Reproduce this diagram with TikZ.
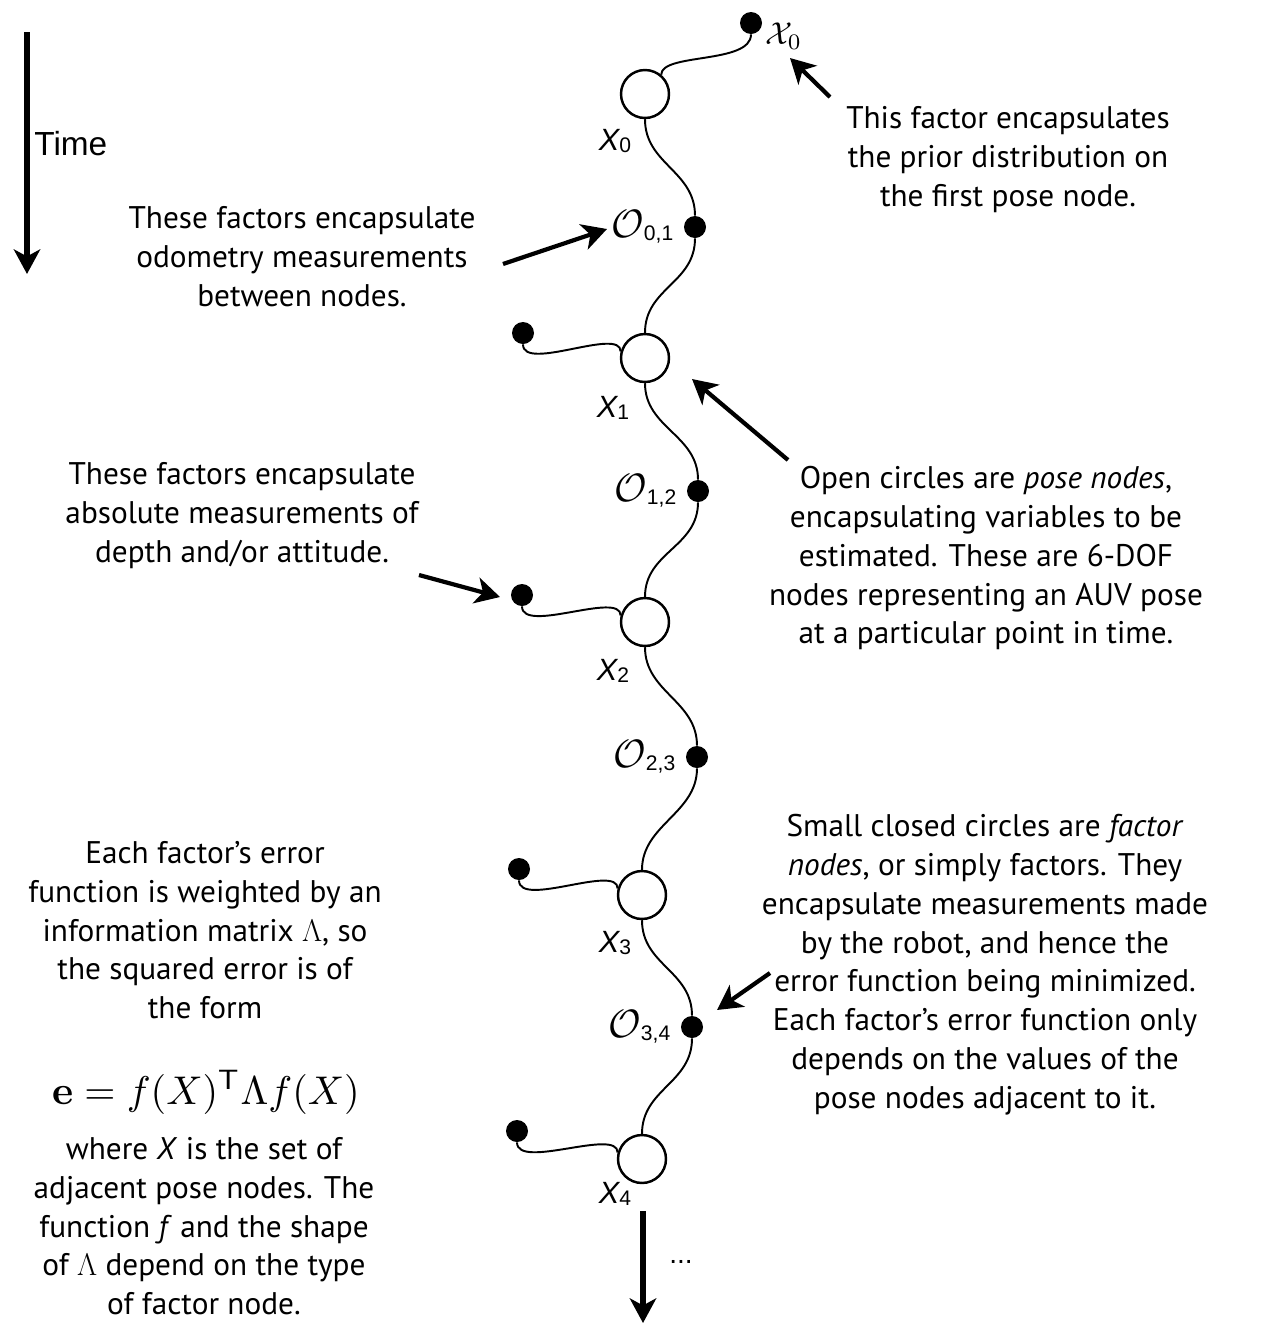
\RequirePackage{fix-cm}
\documentclass[tikz,border=0pt]{standalone}
\usepackage{graphicx}
\usepackage[no-math]{fontspec}
\setmainfont{PT Sans}
\newfontfamily\helv{Liberation Sans}
\usetikzlibrary{arrows.meta,positioning}

\newcommand{\notesize}{\fontsize{17.8}{22.1}\selectfont}
\newcommand{\posex}[1]{{\fontsize{17.5}{20}\selectfont\helv\itshape X}\raisebox{-0.3ex}{\fontsize{12}{12}\selectfont\helv #1}}
\newcommand{\odo}[1]{\scalebox{2.25}{$\mathcal{O}$}\raisebox{-0.4ex}{\fontsize{12}{12}\selectfont\helv #1}}

\begin{document}
\begin{tikzpicture}[x=0.02cm,y=-0.02cm,
    pose/.style={circle,draw,line width=1.4pt,minimum size=0.96cm,inner sep=0},
    factor/.style={circle,fill=black,minimum size=0.44cm,inner sep=0},
    link/.style={line width=1.1pt},
    note/.style={align=center,font=\notesize,inner sep=0,anchor=north},
    pointer/.style={line width=2.4pt,-{Stealth[length=14pt,width=15pt,inset=4pt]}},
    timeline/.style={line width=3.2pt,-{Stealth[length=14pt,width=15pt,inset=4pt]}}]
    \useasboundingbox (0,0) rectangle (1270,1326);

    % time axis
    \coordinate (t0) at (27,32);
    \coordinate (t1) at (27,274);
    \draw[timeline] (t0) -- (t1);
    \node[anchor=west,inner sep=0,font=\helv\fontsize{19}{20}\selectfont] (time) at (34,144) {Time};

    % pose nodes and factors
    \node[factor] (prior) at (751,23) {};
    \node[pose] (p0) at (645,94) {};
    \node[factor] (o01) at (695,227) {};
    \node[pose] (p1) at (645,358) {};
    \node[factor] (o12) at (698,491) {};
    \node[pose] (p2) at (645,622) {};
    \node[factor] (o23) at (697,757) {};
    \node[pose] (p3) at (642,895) {};
    \node[factor] (o34) at (692,1027) {};
    \node[pose] (p4) at (642,1159) {};
    \node[factor] (a1) at (523,333) {};
    \node[factor] (a2) at (522,595) {};
    \node[factor] (a3) at (519,869) {};
    \node[factor] (a4) at (517,1131) {};

    \draw[link] (p0.50) .. controls +(0,-22) and +(0,30) .. (prior.south);
    \foreach \a/\b in {p0/o01,o01/p1,p1/o12,o12/p2,p2/o23,o23/p3,p3/o34,o34/p4}
        \draw[link] (\a.south) .. controls +(0,45) and +(0,-45) .. (\b.north);
    \foreach \s/\p in {a1/p1,a2/p2,a3/p3,a4/p4}
        \draw[link] (\s.south) .. controls +(0,28) and +(0,-25) .. (\p.165);

    % labels
    \node[inner sep=0] (l0) at (615,141) {\posex{0}};
    \node[inner sep=0] (l1) at (613,408) {\posex{1}};
    \node[inner sep=0] (l2) at (613,671) {\posex{2}};
    \node[inner sep=0] (l3) at (615,943) {\posex{3}};
    \node[inner sep=0] (l4) at (615,1194) {\posex{4}};
    \node[inner sep=0,left=0.2cm of o01] (lo01) {\odo{0,1}};
    \node[inner sep=0,left=0.2cm of o12] (lo12) {\odo{1,2}};
    \node[inner sep=0,left=0.2cm of o23] (lo23) {\odo{2,3}};
    \node[inner sep=0,left=0.2cm of o34] (lo34) {\odo{3,4}};
    \node[inner sep=0,anchor=west] (lprior) at (765,36) {\scalebox{1.8}{$\mathcal{X}_0$}};

    % notes
    \node[note] (nprior) at (1008,106) {This factor encapsulates\\the prior distribution on\\the first pose node.};
    \node[note] (nodo) at (302,206) {These factors encapsulate\\odometry measurements\\between nodes.};
    \node[note] (nabs) at (242,462) {These factors encapsulate\\absolute measurements of\\depth and/or attitude.};
    \node[note] (npose) at (986,466) {Open circles are \textit{pose nodes},\\encapsulating variables to be\\estimated. These are 6-DOF\\nodes representing an AUV pose\\at a particular point in time.};
    \node[note] (nfac) at (985,814) {Small closed circles are \textit{factor}\\\textit{nodes}, or simply factors. They\\encapsulate measurements made\\by the robot, and hence the\\error function being minimized.\\Each factor's error function only\\depends on the values of the\\pose nodes adjacent to it.};
    \node[note] (nweight) at (205,841) {Each factor's error\\function is weighted by an\\information matrix $\Lambda$, so\\the squared error is of\\the form};
    \node[inner sep=0] (eq) at (206,1092) {\scalebox{2.28}{$\mathbf{e} = f(X)^{\mathsf{T}}\Lambda f(X)$}};
    \node[note] (nwhere) at (204,1137) {where \textit{X} is the set of\\adjacent pose nodes. The\\function \textit{f} and the shape\\of $\Lambda$ depend on the type\\of factor node.};

    % pointers
    \coordinate (cprior) at (830,97);
    \coordinate (tprior) at (790,58);
    \coordinate (codo) at (503,264);
    \coordinate (todo) at (607,229);
    \coordinate (cabs) at (419,575);
    \coordinate (tabs) at (500,597);
    \coordinate (cpose) at (788,460);
    \coordinate (tpose) at (692,379);
    \coordinate (cfac) at (770,973);
    \coordinate (tfac) at (717,1010);
    \draw[pointer] (cprior) -- (tprior);
    \draw[pointer] (codo) -- (todo);
    \draw[pointer] (cabs) -- (tabs);
    \draw[pointer] (cpose) -- (tpose);
    \draw[pointer] (cfac) -- (tfac);

    % continuation
    \coordinate (more) at (643,1323);
    \draw[timeline] (p4.south) ++(1,27) -- (more);
    \node[inner sep=0,font=\helv\fontsize{16}{18}\selectfont] (dots) at (681,1262) {...};
\end{tikzpicture}
\end{document}
